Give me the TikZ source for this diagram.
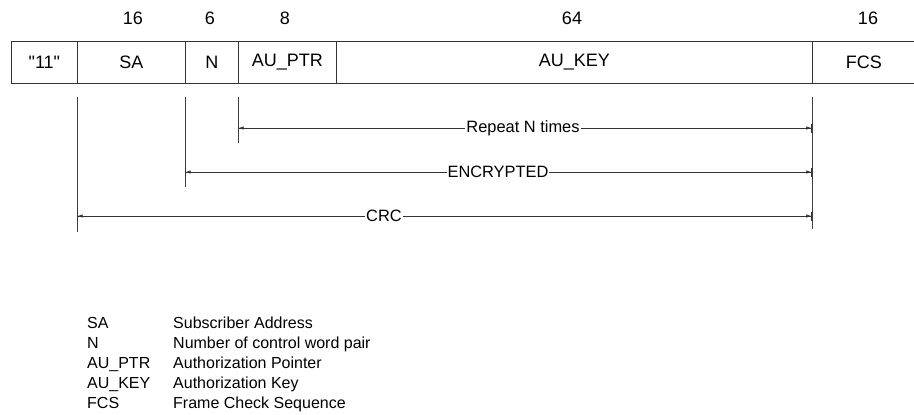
\documentclass[tikz,border=0pt]{standalone}
\usepackage{fontspec}
\setmainfont{Liberation Sans}
\newfontfamily\rawfont[Ligatures=ResetAll]{Liberation Sans}
\usetikzlibrary{arrows.meta}
\begin{document}
\begin{tikzpicture}[x=1pt,y=-1pt,
  field/.style={draw=black!80,line width=0.8pt,minimum height=42pt,inner sep=0pt,font=\fontsize{18}{20}\selectfont,anchor=north west},
  bits/.style={font=\fontsize{18}{20}\selectfont},
  guide/.style={draw=black!75,line width=0.7pt},
  span/.style={draw=black!80,line width=0.7pt,{Bar[width=9pt]Latex[length=5pt,width=3.5pt]}-{Latex[length=5pt,width=3.5pt]Bar[width=9pt]}},
  spanlbl/.style={fill=white,inner sep=1pt,font=\fontsize{16.4}{18}\selectfont},
  leg/.style={anchor=base west,inner sep=0pt,font=\fontsize{16}{18}\selectfont}]
\useasboundingbox (0,0) rectangle (914,415);
% fields
\node[field,minimum width=66pt] (f11) at (11,41) {\rawfont"11"};
\node[field,minimum width=108pt] (fsa) at (77,41) {SA};
\node[field,minimum width=53pt] (fn) at (185,41) {N};
\node[field,minimum width=98pt] (fptr) at (238,41) {AU\_PTR};
\node[field,minimum width=476pt] (fkey) at (336,41) {AU\_KEY};
\node[field,minimum width=103pt,text width=96pt,align=center] (ffcs) at (812,41) {FCS};
% bit widths
\node[bits] (b1) at (133,18) {16};
\node[bits] (b2) at (210,18) {6};
\node[bits] (b3) at (285,18) {8};
\node[bits] (b4) at (572,18) {64};
\node[bits] (b5) at (868,18) {16};
% guide lines
\coordinate (g77) at (77,232);
\coordinate (g185) at (185,187);
\coordinate (g238) at (238,143);
\coordinate (g812) at (812,229);
\draw[guide] (fsa.south west) ++(0,13) -- (g77);
\draw[guide] (fn.south west) ++(0,13) -- (g185);
\draw[guide] (fptr.south west) ++(0,13) -- (g238);
\draw[guide] (ffcs.south west) ++(0,13) -- (g812);
% spans
\coordinate (r1) at (238,128); \coordinate (r2) at (812,128);
\coordinate (e1) at (185,172); \coordinate (e2) at (812,172);
\coordinate (c1) at (77,216);  \coordinate (c2) at (812,216);
\draw[span] (r1) -- (r2);
\draw[span] (e1) -- (e2);
\draw[span] (c1) -- (c2);
\node[spanlbl] (lr) at (523,128) {Repeat N times};
\node[spanlbl] (le) at (498,172) {ENCRYPTED};
\node[spanlbl] (lc) at (384,216) {CRC};
% legend
\node[leg] (k1) at (87,328) {SA};      \node[leg] (v1) at (173,328) {Subscriber Address};
\node[leg] (k2) at (87,348) {N};       \node[leg] (v2) at (173,348) {Number of control word pair};
\node[leg] (k3) at (87,368) {AU\_PTR}; \node[leg] (v3) at (173,368) {Authorization Pointer};
\node[leg] (k4) at (87,388) {AU\_KEY}; \node[leg] (v4) at (173,388) {Authorization Key};
\node[leg] (k5) at (87,408) {FCS};     \node[leg] (v5) at (173,408) {Frame Check Sequence};
\end{tikzpicture}
\end{document}
